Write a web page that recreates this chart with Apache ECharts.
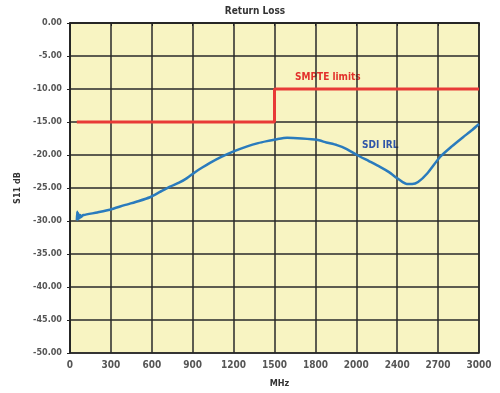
<!DOCTYPE html>
<html><head><meta charset="utf-8">
<script src="https://cdn.jsdelivr.net/npm/echarts@6/dist/echarts.min.js"></script>
<style>html,body{margin:0;padding:0;background:#fff}#c{width:500px;height:393px}</style>
</head><body><div id="c"></div>
<script>
const xTickLabels = ['0','300','600','900','1200','1500','1800','2000','2400','2700','3000'];
const smpteMHz = [50, 1500, 1500, 3000];
const smpteDb  = [-15, -15, -10, -10];
const irlMHz = [50, 53, 56, 59, 62, 66, 70, 75, 82, 90, 100, 200, 293, 400, 500, 587, 660, 734, 800, 858, 917, 970, 1027, 1110, 1196, 1300, 1380, 1445, 1520, 1592, 1700, 1811, 1880, 1958, 2030, 2105, 2190, 2274, 2340, 2398, 2440, 2471, 2510, 2553, 2620, 2714, 2800, 2883, 2950, 3000];
const irlDb  = [-29.9, -28.6, -29.8, -28.8, -29.7, -29.0, -29.6, -29.1, -29.4, -29.2, -29.1, -28.7, -28.3, -27.6, -27.0, -26.4, -25.6, -24.8, -24.2, -23.5, -22.6, -21.9, -21.2, -20.3, -19.5, -18.7, -18.2, -17.9, -17.6, -17.4, -17.5, -17.7, -18.1, -18.5, -19.1, -20.0, -20.9, -21.8, -22.6, -23.5, -24.1, -24.4, -24.4, -24.1, -22.8, -20.3, -18.7, -17.3, -16.2, -15.3];

const chart = echarts.init(document.getElementById('c'));
const lblFont = {fontFamily:'DejaVu Sans Condensed', fontWeight:'bold', fontSize:9, color:'#555'};
chart.setOption({
  animation:false,
  title:{text:'Return Loss', left:250, top:1, textAlign:'center',
    textStyle:{fontFamily:'DejaVu Sans Condensed', fontWeight:'bold', fontSize:10, color:'#333'}},
  grid:{left:70, right:21, top:23, bottom:40, show:true, backgroundColor:'#f8f4c2', borderColor:'#222', borderWidth:1.5},
  xAxis:{type:'value', min:0, max:3000, interval:300,
    name:'MHz', nameLocation:'middle', nameGap:26,
    nameTextStyle:Object.assign({}, lblFont, {color:'#333', padding:[0,0,0,10]}),
    axisLine:{lineStyle:{color:'#222', width:1.5}},
    axisTick:{show:true, length:3, lineStyle:{color:'#222'}},
    splitLine:{show:true, lineStyle:{color:'#2a2a2a', width:1.5}},
    axisLabel:Object.assign({}, lblFont, {fontSize:10, margin:7, formatter:(v)=>xTickLabels[Math.round(v/300)]})},
  yAxis:{type:'value', min:-50, max:0, interval:5,
    name:'S11 dB', nameLocation:'middle', nameGap:46, nameRotate:90,
    nameTextStyle:Object.assign({}, lblFont, {color:'#333'}),
    axisLine:{show:true, lineStyle:{color:'#222', width:1.5}},
    axisTick:{show:true, length:3, lineStyle:{color:'#222'}},
    splitLine:{show:true, lineStyle:{color:'#2a2a2a', width:1.5}},
    axisLabel:Object.assign({}, lblFont, {margin:8, formatter:(v)=>v.toFixed(2)})},
  series:[
    {type:'line', name:'SMPTE limits', data:smpteMHz.map((x,i)=>[x,smpteDb[i]]), showSymbol:false,
      lineStyle:{color:'#e83a36', width:3}},
    {type:'line', name:'SDI IRL', data:irlMHz.map((x,i)=>[x,irlDb[i]]), showSymbol:false, smooth:0.2,
      lineStyle:{color:'#2a7bbd', width:2.5}}
  ],
  graphic:[
    {type:'text', left:295, top:72, style:{text:'SMPTE limits', fill:'#e2312c', font:'bold 10px "DejaVu Sans Condensed"'}},
    {type:'text', left:362, top:140, style:{text:'SDI IRL', fill:'#2f55a8', font:'bold 10px "DejaVu Sans Condensed"'}}
  ]
});
</script></body></html>
